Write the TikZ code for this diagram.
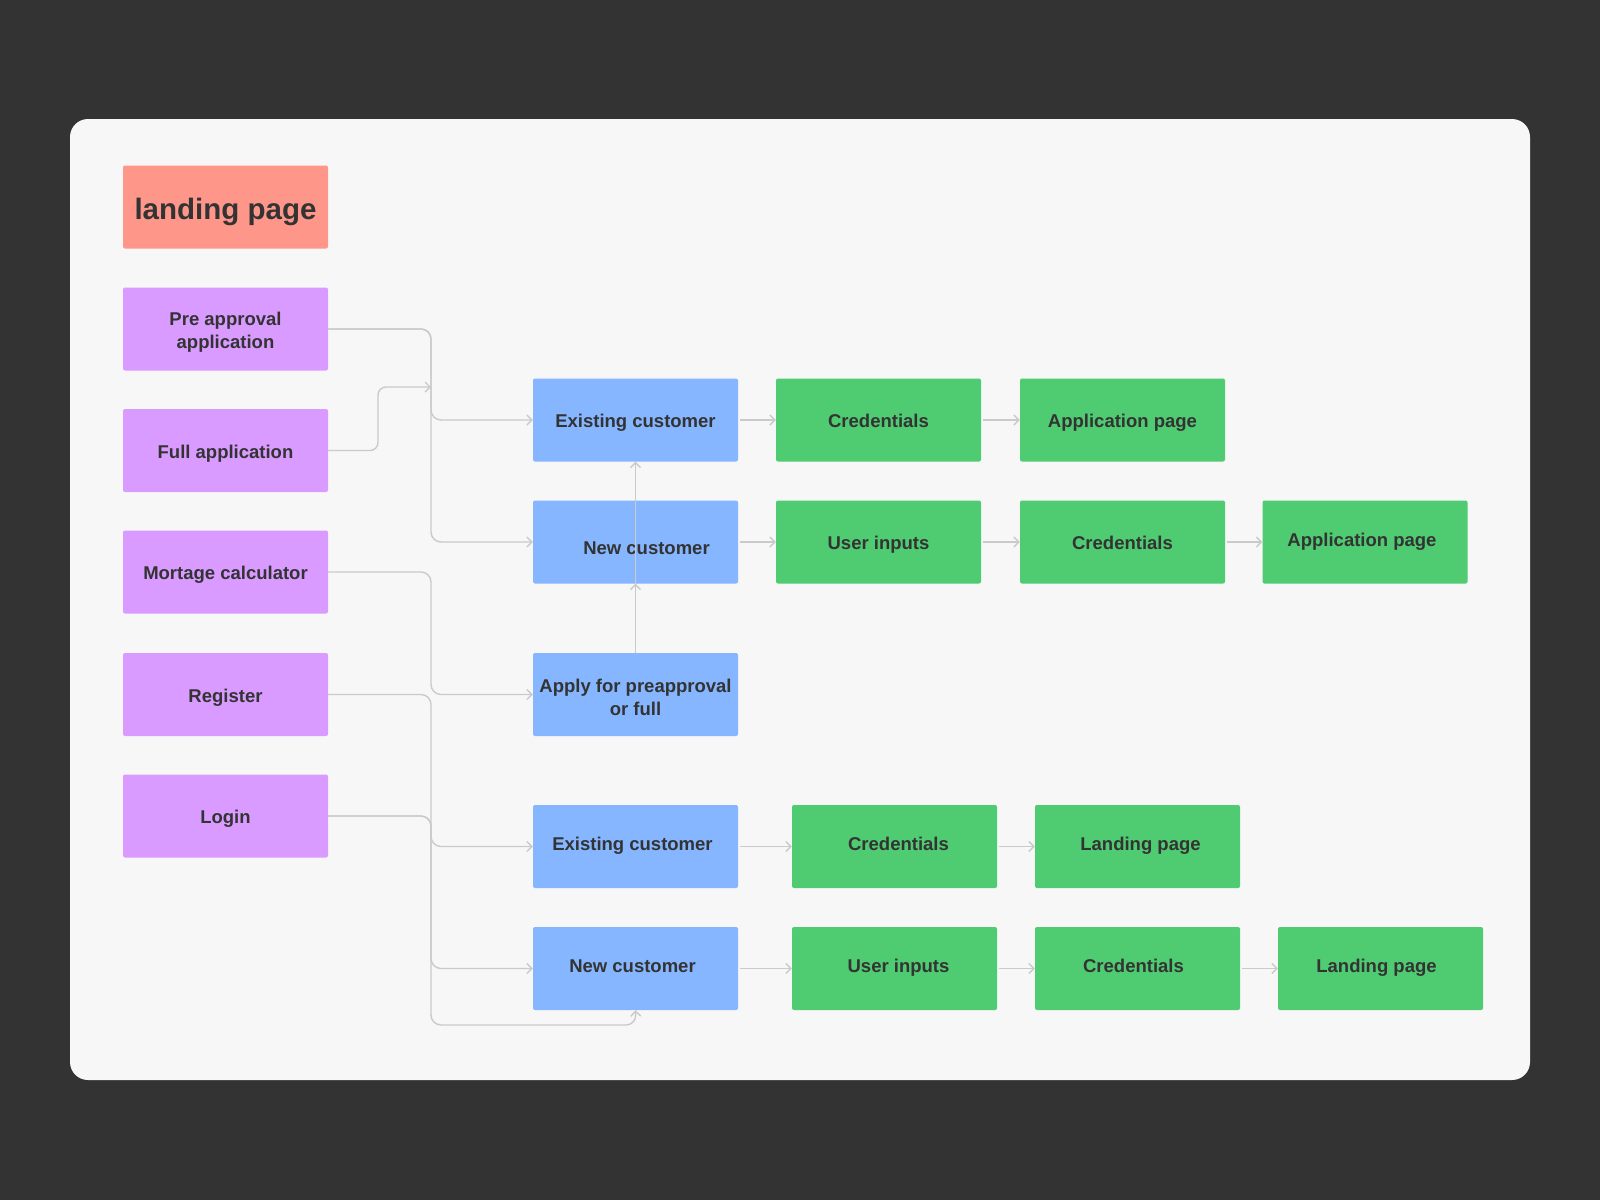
\documentclass[tikz,border=0pt]{standalone}
\usepackage{fontspec}
\setmainfont{Liberation Sans}
\usetikzlibrary{arrows.meta}
\definecolor{bgdark}{HTML}{333333}
\definecolor{panel}{HTML}{F7F7F7}
\definecolor{salmon}{HTML}{FF968A}
\definecolor{purp}{HTML}{D99BFF}
\definecolor{blu}{HTML}{85B6FF}
\definecolor{grn}{HTML}{4FCB71}
\definecolor{txt}{HTML}{333333}
\definecolor{lin}{HTML}{CACACA}
\tikzset{
  box/.style={minimum width=205pt, minimum height=83pt, inner sep=0pt, rounded corners=2pt,
    font=\bfseries\fontsize{18.5}{23}\selectfont, text=txt, align=center,
    text height=15pt, text depth=0pt},
  lbl/.style={font=\bfseries\fontsize{18.5}{23}\selectfont, text=txt, align=center, inner sep=0pt,
    text height=15pt, text depth=0pt},
  mlbl/.style={font=\bfseries\fontsize{18.5}{23}\selectfont, text=txt, align=center, inner sep=0pt},
  hi/.style={text depth=7pt},
  pbox/.style={box, fill=purp},
  bbox/.style={box, fill=blu},
  gbox/.style={box, fill=grn},
  conn/.style={draw=lin, line width=1.4pt, -{Straight Barb[length=5pt,width=10pt]}, rounded corners=10pt},
  hop/.style={conn, shorten <=2pt}
}
\begin{document}
\begin{tikzpicture}[x=1pt,y=-1pt]
\useasboundingbox (0,0) rectangle (1600,1200);
\fill[bgdark] (0,0) rectangle (1600,1200);
\fill[panel, rounded corners=18pt] (70,119) rectangle (1530,1080);

% left column
\node[box, fill=salmon, font=\bfseries\fontsize{29.5}{34}\selectfont, text height=24pt] (land) at (225.5,207) {landing page};
\node[pbox] (pre) at (225.5,329) {};
\node[mlbl] (pret) at ([shift={(0,3)}]pre.center) {Pre approval\\application};
\node[pbox] (full) at (225.5,450.5) {Full application};
\node[pbox] (mort) at (225.5,572) {Mortage calculator};
\node[pbox] (reg) at (225.5,694.5) {Register};
\node[pbox] (login) at (225.5,816) {Login};

% blue column
\node[bbox] (ex1) at (635.5,420) {Existing customer};
\node[bbox] (new1) at (635.5,542) {};
\node[lbl] (new1t) at ([shift={(11,5)}]new1.center) {New customer};
\node[bbox] (apply) at (635.5,694.5) {};
\node[mlbl] (applyt) at ([shift={(0,3)}]apply.center) {Apply for preapproval\\or full};
\node[bbox] (ex2) at (635.5,846.5) {};
\node[lbl, hi] (ex2t) at ([shift={(-3,0)}]ex2.center) {Existing customer};
\node[bbox] (new2) at (635.5,968.5) {};
\node[lbl, hi] (new2t) at ([shift={(-3,0)}]new2.center) {New customer};

% green rows
\node[gbox] (c1) at (878.5,420) {Credentials};
\node[gbox] (a1) at (1122.5,420) {Application page};
\node[gbox] (u2) at (878.5,542) {User inputs};
\node[gbox] (c2) at (1122.5,542) {Credentials};
\node[gbox] (a2) at (1365,542) {};
\node[lbl] (a2t) at ([shift={(-3,-3)}]a2.center) {Application page};
\node[gbox] (c3) at (894.5,846.5) {};
\node[lbl, hi] (c3t) at ([shift={(4,0)}]c3.center) {Credentials};
\node[gbox] (l3) at (1137.5,846.5) {};
\node[lbl, hi] (l3t) at ([shift={(3,0)}]l3.center) {Landing page};
\node[gbox] (u4) at (894.5,968.5) {};
\node[lbl, hi] (u4t) at ([shift={(4,0)}]u4.center) {User inputs};
\node[gbox] (c4) at (1137.5,968.5) {};
\node[lbl, hi] (c4t) at ([shift={(-4,0)}]c4.center) {Credentials};
\node[gbox] (l4) at (1380.5,968.5) {};
\node[lbl, hi] (l4t) at ([shift={(-4,0)}]l4.center) {Landing page};

% trunk coordinates
\coordinate (tpre) at (431,329);
\coordinate (tfull) at (431,387);
\coordinate (fbend) at (378,450.5);
\coordinate (fbend2) at (378,387);
\coordinate (tex1) at (431,420);
\coordinate (tnew1) at (431,542);
\coordinate (tmort) at (431,572);
\coordinate (tapply) at (431,694.5);
\coordinate (treg) at (431,694.5);
\coordinate (tbot) at (431,1025);
\coordinate (bbot) at (636,1025);
\coordinate (tlogin) at (431,816);
\coordinate (tex2) at (431,846.5);
\coordinate (tnew2) at (431,968.5);

% left connectors
\draw[conn] (pre.east) -- (tpre) -- (tex1) -- (ex1.west);
\draw[conn] (pre.east) -- (tpre) -- (tnew1) -- (new1.west);
\draw[conn, rounded corners=8pt] (full.east) -- (fbend) -- (fbend2) -- (tfull);
\draw[conn] (mort.east) -- (tmort) -- (tapply) -- (apply.west);
\draw[conn] (reg.east) -- (treg) -- (tbot) -- (bbot) -- (new2.south);
\draw[conn] (login.east) -- (tlogin) -- (tex2) -- (ex2.west);
\draw[conn] (login.east) -- (tlogin) -- (tnew2) -- (new2.west);

% vertical
\draw[conn] (apply.north) -- (new1.south);
\draw[conn] (apply.north) -- (ex1.south);

% horizontal hops
\draw[hop] (ex1.east) -- (c1.west);
\draw[hop] (c1.east) -- (a1.west);
\draw[hop] (new1.east) -- (u2.west);
\draw[hop] (u2.east) -- (c2.west);
\draw[hop] (c2.east) -- (a2.west);
\draw[hop] (ex2.east) -- (c3.west);
\draw[hop] (c3.east) -- (l3.west);
\draw[hop] (new2.east) -- (u4.west);
\draw[hop] (u4.east) -- (c4.west);
\draw[hop] (c4.east) -- (l4.west);
\end{tikzpicture}
\end{document}
